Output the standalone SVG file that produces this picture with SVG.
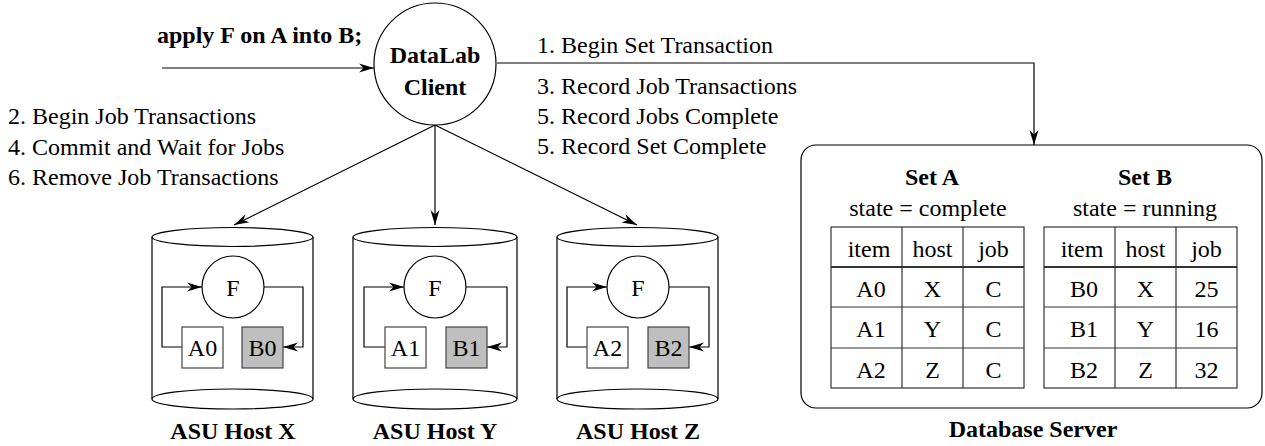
<svg xmlns="http://www.w3.org/2000/svg" width="1265" height="446" viewBox="0 0 1265 446">
<style>
text{font-family:"Liberation Serif","Times New Roman",serif;font-size:24px;fill:#000}
.b{font-weight:bold}
.m{text-anchor:middle}
.ln{fill:none;stroke:#000;stroke-width:1.2}
.cyl{fill:#fff;stroke:#000;stroke-width:1.2}
.box{fill:#fff;stroke:#444;stroke-width:1.2}
.gbox{fill:#bfbfbf;stroke:#444;stroke-width:1.2}
.tb{fill:none;stroke:#333;stroke-width:1.2}
.th{stroke:#333;stroke-width:2.2}
</style>
<defs>
<marker id="ah" markerUnits="userSpaceOnUse" viewBox="-16 -5 17 10" refX="0" refY="0" markerWidth="17" markerHeight="10" orient="auto">
<path d="M0,0 L-15,-4.5 L-10.5,0 L-15,4.5 Z" fill="#000"/>
</marker>
</defs>
<rect width="1265" height="446" fill="#fff"/>

<g id="connectors">
<line class="ln" x1="162" y1="68" x2="374" y2="68" marker-end="url(#ah)"/>
<polyline class="ln" points="497,63 1034,63 1034,145" marker-end="url(#ah)"/>
<line class="ln" x1="435" y1="125" x2="234" y2="225" marker-end="url(#ah)"/>
<line class="ln" x1="435" y1="125" x2="435" y2="225" marker-end="url(#ah)"/>
<line class="ln" x1="435" y1="125" x2="637" y2="225" marker-end="url(#ah)"/>
</g>

<g id="labels">
<text class="b" x="157" y="43">apply F on A into B;</text>
<text x="8" y="124">2. Begin Job Transactions</text>
<text x="8" y="155">4. Commit and Wait for Jobs</text>
<text x="8" y="185">6. Remove Job Transactions</text>
<text x="537" y="53">1. Begin Set Transaction</text>
<text x="537" y="94">3. Record Job Transactions</text>
<text x="537" y="124">5. Record Jobs Complete</text>
<text x="537" y="154">5. Record Set Complete</text>
</g>

<g id="client">
<circle cx="435" cy="64" r="61" fill="#fff" stroke="#000" stroke-width="1.2"/>
<text class="b m" x="435" y="63">DataLab</text>
<text class="b m" x="435" y="95">Client</text>
</g>

<g id="hostX">
<path class="cyl" d="M152,237 V399 A80.5,10 0 0 0 313,399 V237"/>
<ellipse class="cyl" cx="232.5" cy="237" rx="80.5" ry="9.5"/>
<path class="ln" d="M152,399 A80.5,10 0 0 1 313,399"/>
<polyline class="ln" points="182,347 162,347 162,287 202,287" marker-end="url(#ah)"/>
<polyline class="ln" points="264,287 303,287 303,347 283,347" marker-end="url(#ah)"/>
<circle cx="233" cy="287" r="31" fill="#fff" stroke="#000" stroke-width="1.2"/>
<text class="m" x="233" y="296">F</text>
<rect class="box" x="182" y="327" width="41" height="41"/>
<text class="m" x="202.5" y="356">A0</text>
<rect class="gbox" x="242" y="327" width="41" height="41"/>
<text class="m" x="262.5" y="356">B0</text>
<text class="b m" x="233" y="439">ASU Host X</text>
</g>

<g id="hostY">
<path class="cyl" d="M353,237 V399 A81,10 0 0 0 517,399 V237"/>
<ellipse class="cyl" cx="435" cy="237" rx="82" ry="9.5"/>
<path class="ln" d="M353,399 A82,10 0 0 1 517,399"/>
<polyline class="ln" points="385,347 364,347 364,287 404,287" marker-end="url(#ah)"/>
<polyline class="ln" points="466,287 507,287 507,347 487,347" marker-end="url(#ah)"/>
<circle cx="435" cy="287" r="31" fill="#fff" stroke="#000" stroke-width="1.2"/>
<text class="m" x="435" y="296">F</text>
<rect class="box" x="385" y="327" width="41" height="41"/>
<text class="m" x="405.5" y="356">A1</text>
<rect class="gbox" x="446" y="327" width="41" height="41"/>
<text class="m" x="466.5" y="356">B1</text>
<text class="b m" x="435" y="439">ASU Host Y</text>
</g>

<g id="hostZ">
<path class="cyl" d="M557,237 V399 A80.5,10 0 0 0 718,399 V237"/>
<ellipse class="cyl" cx="637.5" cy="237" rx="80.5" ry="9.5"/>
<path class="ln" d="M557,399 A80.5,10 0 0 1 718,399"/>
<polyline class="ln" points="587,347 567,347 567,287 607,287" marker-end="url(#ah)"/>
<polyline class="ln" points="669,287 709,287 709,347 689,347" marker-end="url(#ah)"/>
<circle cx="638" cy="287" r="31" fill="#fff" stroke="#000" stroke-width="1.2"/>
<text class="m" x="638" y="296">F</text>
<rect class="box" x="587" y="327" width="41" height="41"/>
<text class="m" x="607.5" y="356">A2</text>
<rect class="gbox" x="648" y="327" width="41" height="41"/>
<text class="m" x="668.5" y="356">B2</text>
<text class="b m" x="638" y="439">ASU Host Z</text>
</g>

<g id="dbserver">
<rect x="801" y="145" width="461" height="263" rx="15" fill="none" stroke="#000" stroke-width="1.2"/>
<text class="b m" x="1033" y="437">Database Server</text>

<text class="b m" x="932" y="185">Set A</text>
<text class="m" x="928" y="216">state = complete</text>
<rect class="tb" x="831" y="227" width="193" height="161"/>
<line class="th" x1="831" y1="267" x2="1024" y2="267"/>
<line class="tb" x1="831" y1="307" x2="1024" y2="307"/>
<line class="tb" x1="831" y1="348" x2="1024" y2="348"/>
<line class="tb" x1="902" y1="227" x2="902" y2="388"/>
<line class="tb" x1="963" y1="227" x2="963" y2="388"/>
<text class="m" x="869" y="257">item</text>
<text class="m" x="932.5" y="257">host</text>
<text class="m" x="993.5" y="257">job</text>
<text class="m" x="871" y="297">A0</text>
<text class="m" x="932.5" y="297">X</text>
<text class="m" x="993.5" y="297">C</text>
<text class="m" x="871" y="337">A1</text>
<text class="m" x="932.5" y="337">Y</text>
<text class="m" x="993.5" y="337">C</text>
<text class="m" x="871" y="378">A2</text>
<text class="m" x="932.5" y="378">Z</text>
<text class="m" x="993.5" y="378">C</text>

<text class="b m" x="1145" y="185">Set B</text>
<text class="m" x="1145" y="216">state = running</text>
<rect class="tb" x="1044" y="227" width="193" height="161"/>
<line class="th" x1="1044" y1="267" x2="1237" y2="267"/>
<line class="tb" x1="1044" y1="307" x2="1237" y2="307"/>
<line class="tb" x1="1044" y1="348" x2="1237" y2="348"/>
<line class="tb" x1="1115" y1="227" x2="1115" y2="388"/>
<line class="tb" x1="1176" y1="227" x2="1176" y2="388"/>
<text class="m" x="1082" y="257">item</text>
<text class="m" x="1145.5" y="257">host</text>
<text class="m" x="1206.5" y="257">job</text>
<text class="m" x="1084" y="297">B0</text>
<text class="m" x="1145.5" y="297">X</text>
<text class="m" x="1206.5" y="297">25</text>
<text class="m" x="1084" y="337">B1</text>
<text class="m" x="1145.5" y="337">Y</text>
<text class="m" x="1206.5" y="337">16</text>
<text class="m" x="1084" y="378">B2</text>
<text class="m" x="1145.5" y="378">Z</text>
<text class="m" x="1206.5" y="378">32</text>
</g>
</svg>
